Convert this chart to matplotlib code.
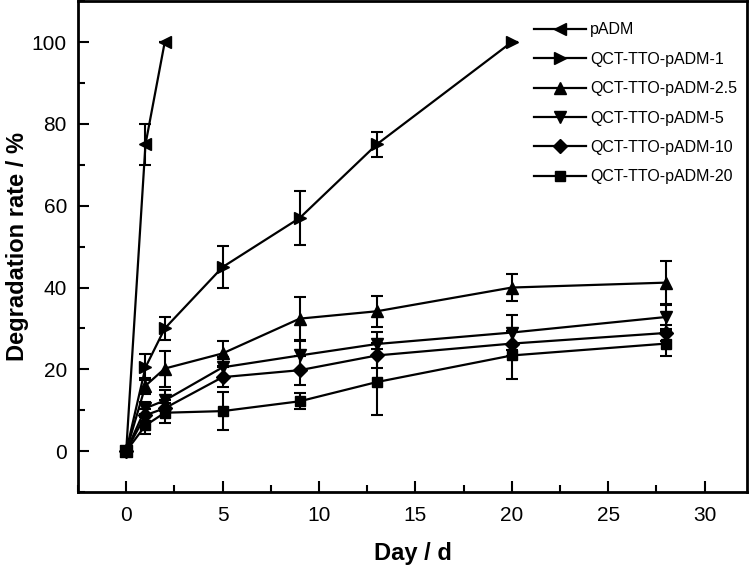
import numpy as np
import matplotlib
matplotlib.use("Agg")
import matplotlib.pyplot as plt
from matplotlib.ticker import MultipleLocator

plt.rcParams['font.family'] = ['Liberation Sans', 'DejaVu Sans']

# data
days_padm = [0, 1, 2]
padm = [0, 75, 100]
padm_err = [0, 5, 0]

days_1 = [0, 1, 2, 5, 9, 13, 20]
qct_1 = [0, 20.5, 30, 45, 57, 75, 100]
qct_1_err = [0, 3.2, 2.8, 5.2, 6.6, 3, 0]

days = [0, 1, 2, 5, 9, 13, 20, 28]
qct_25 = [0, 16, 20.2, 23.9, 32.4, 34.2, 40, 41.2]
qct_25_err = [0, 2, 4.4, 3, 5.2, 3.8, 3.2, 5.2]
qct_5 = [0, 10.5, 12.4, 20.5, 23.4, 26.2, 29, 32.8]
qct_5_err = [0, 1.5, 2.5, 2.5, 3.5, 3, 4.2, 3]
qct_10 = [0, 8.8, 10.5, 18.1, 19.8, 23.4, 26.3, 28.9]
qct_10_err = [0, 1.5, 2, 2.5, 3.5, 3, 3, 2]
qct_20 = [0, 6.3, 9.4, 9.8, 12.2, 16.9, 23.4, 26.3]
qct_20_err = [0, 2, 2.5, 4.7, 2, 8, 5.8, 3]

series = [
    ("pADM", days_padm, padm, padm_err, "<"),
    ("QCT-TTO-pADM-1", days_1, qct_1, qct_1_err, ">"),
    ("QCT-TTO-pADM-2.5", days, qct_25, qct_25_err, "^"),
    ("QCT-TTO-pADM-5", days, qct_5, qct_5_err, "v"),
    ("QCT-TTO-pADM-10", days, qct_10, qct_10_err, "D"),
    ("QCT-TTO-pADM-20", days, qct_20, qct_20_err, "s"),
]

fig = plt.figure(figsize=(7.5, 5.65), dpi=100)
ax = fig.add_axes([0.104, 0.129, 0.892, 0.869])

for name, x, y, e, m in series:
    ms = 7 if m in ("D", "s") else 9
    ax.errorbar(x, y, yerr=e, fmt="none", ecolor="black", elinewidth=1.5,
                capsize=4, capthick=1.5)
    ax.plot(x, y, color="black", lw=1.6, marker=m, markersize=ms, label=name)

ax.set_xlim(-2.5, 32.2)
ax.set_ylim(-10, 110)
ax.xaxis.set_major_locator(MultipleLocator(5))
ax.xaxis.set_minor_locator(MultipleLocator(2.5))
ax.yaxis.set_major_locator(MultipleLocator(20))
ax.yaxis.set_minor_locator(MultipleLocator(10))
ax.tick_params(which="both", direction="in", width=1.5, labelsize=15, pad=8)
ax.tick_params(axis="x", which="both", pad=10)
ax.tick_params(which="major", length=8)
ax.tick_params(which="minor", length=5)
for s in ax.spines.values():
    s.set_linewidth(2)

ax.set_xlabel("Day / d", fontsize=17, fontweight="bold", labelpad=12)
ax.set_ylabel("Degradation rate / %", fontsize=17, fontweight="bold", labelpad=2)

ax.legend(loc="upper right", frameon=False, fontsize=11.5, handlelength=3.2,
          labelspacing=0.9, handletextpad=0.3, bbox_to_anchor=(1.007, 0.986))

fig.savefig("out.png", dpi=100)
